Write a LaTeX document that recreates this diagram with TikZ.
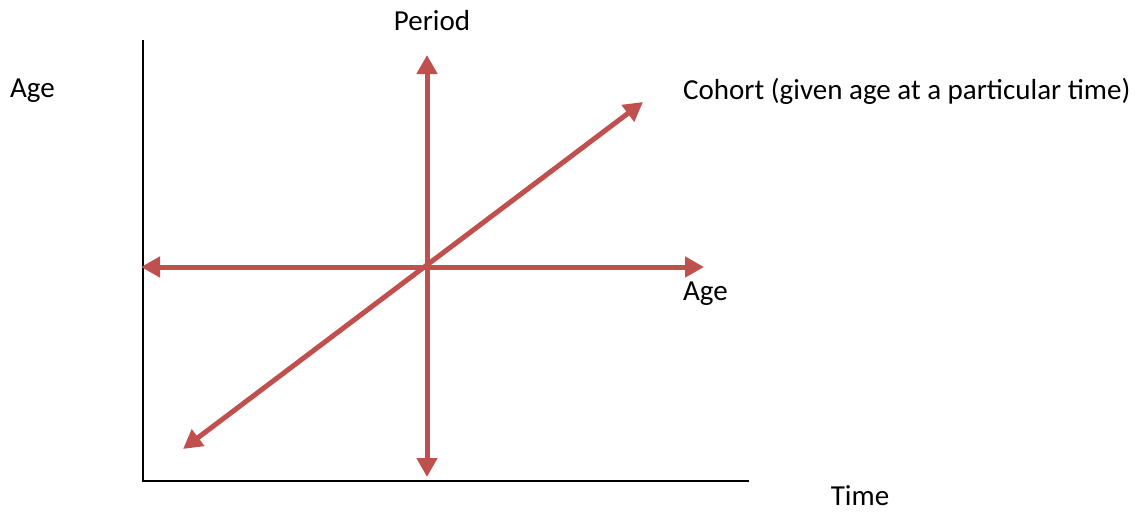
\documentclass[tikz,border=0pt]{standalone}
\usepackage{fontspec}
\setmainfont{Carlito}
\usetikzlibrary{arrows.meta}
\definecolor{apcred}{HTML}{C0504D}
\tikzset{
  axisline/.style={draw=black,line width=2pt},
  apcarrow/.style={{Triangle[length=19pt,width=20pt]}-{Triangle[length=19pt,width=20pt]},draw=apcred,line width=5pt},
  lbl/.style={font=\fontsize{29}{34}\selectfont,text=black,inner sep=0pt},
}

\begin{document}
\begin{tikzpicture}[x=1pt,y=-1pt]
  \useasboundingbox (0,0) rectangle (1144,512);
  % axes
  \coordinate (top) at (143,40);
  \coordinate (origin) at (143,481);
  \coordinate (right) at (749,481);
  \draw[axisline] (top)--(origin)--(right);
  % arrows through the centre
  \coordinate (pUp) at (427,55);
  \coordinate (pDown) at (427,477);
  \coordinate (aLeft) at (141,267);
  \coordinate (aRight) at (704,267);
  \coordinate (cLow) at (183,449);
  \coordinate (cHigh) at (643,102);
  \draw[apcarrow] (pDown)--(pUp);
  \draw[apcarrow] (aLeft)--(aRight);
  \draw[apcarrow] (cLow)--(cHigh);
  % labels
  \node[lbl] (period) at (432,21) {Period};
  \node[lbl,anchor=west] (ageAxis) at (10,91) {Age};
  \node[lbl,anchor=west] (cohort) at (683,91) {Cohort (given age at a particular time)};
  \node[lbl,anchor=west] (ageArrow) at (683,294) {Age};
  \node[lbl] (time) at (860,496) {Time};
\end{tikzpicture}
\end{document}
